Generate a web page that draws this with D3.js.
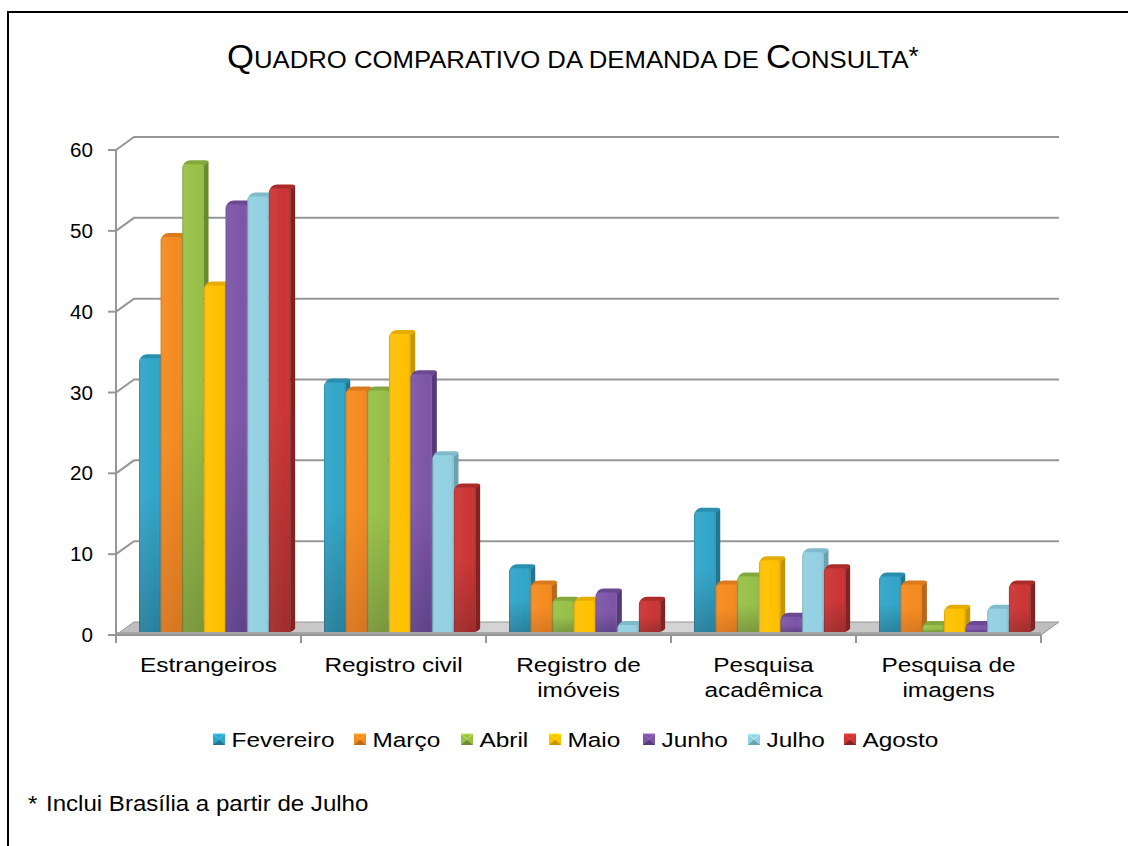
<!DOCTYPE html>
<html><head><meta charset="utf-8">
<script src="https://cdn.jsdelivr.net/npm/d3@7"></script>
<style>html,body{margin:0;padding:0;background:#fff}svg{display:block}text{font-family:"Liberation Sans",Arial,sans-serif;fill:#000}</style>
</head><body><div id="c"></div>
<script>
const categories=[["Estrangeiros"],["Registro civil"],["Registro de","imóveis"],["Pesquisa","acadêmica"],["Pesquisa de","imagens"]];
const months=["Fevereiro","Março","Abril","Maio","Junho","Julho","Agosto"];
const fevereiro=[34,31,8,15,7];
const marco=[49,30,6,6,6];
const abril=[58,30,4,7,1];
const maio=[43,37,4,9,3];
const junho=[53,32,5,2,1];
const julho=[54,22,1,10,3];
const agosto=[55,18,4,8,6];
const series=[fevereiro,marco,abril,maio,junho,julho,agosto];
const colors=["#31a5c8","#f58a1f","#97c047","#ffc000","#7d55a8","#92d0e2","#cb3434"];
const dark=["#23758f","#b8661a","#6b8a33","#c79500","#553a75","#6aa2b2","#842323"];
const bottoms=["#27809c","#d8761f","#79983a","#ffc000","#5f4289","#92d0e2","#a12b2b"];
const yTicks=[0,10,20,30,40,50,60];
const W=1128,H=846,SX=1.19;
const svg=d3.select("#c").append("svg").attr("width",W).attr("height",H);
const defs=svg.append("defs");
colors.forEach((c,i)=>{
 const g=defs.append("linearGradient").attr("id","f"+i).attr("x1",0).attr("y1",0).attr("x2",0).attr("y2",1);
 g.append("stop").attr("offset",0).attr("stop-color",c);
 g.append("stop").attr("offset",.5).attr("stop-color",c);
 g.append("stop").attr("offset",1).attr("stop-color",bottoms[i]);
});
const sh=defs.append("linearGradient").attr("id","sh");
[[0,"#000",.18],[.1,"#fff",.05],[.85,"#fff",0],[1,"#000",.12]].forEach(d=>sh.append("stop").attr("offset",d[0]).attr("stop-color",d[1]).attr("stop-opacity",d[2]));
const fl=defs.append("linearGradient").attr("id","fl").attr("x1",0).attr("x2",1);
[[0,"#bdbdbd"],[.5,"#d9d9d9"],[1,"#bdbdbd"]].forEach(d=>fl.append("stop").attr("offset",d[0]).attr("stop-color",d[1]));
defs.append("filter").attr("id","soft").attr("x","-20%").attr("y","-5%").attr("width","140%").attr("height","110%")
 .append("feGaussianBlur").attr("stdDeviation",.55);
const txt=(par,x,y,size,anchor,sx)=>par.append("text").attr("transform",`translate(${x},${y}) scale(${sx},1)`).attr("text-anchor",anchor).attr("font-size",size);

// page frame
svg.append("path").attr("d",`M8,${H}V12H${W}`).attr("fill","none").attr("stroke","#000").attr("stroke-width",2);

// scales
const x0=d3.scaleBand().domain(d3.range(5)).range([116,1041]);
const x1=d3.scaleBand().domain(d3.range(7)).range([23,23+21.65*7]);
const y=d3.scaleLinear().domain([0,60]).range([635,150]);
const dx=18,dy=-13;
const grey="#969696";

// back wall grid
svg.append("g").selectAll("path").data(yTicks.slice(1)).join("path")
 .attr("d",d=>`M116,${y(d)}L${116+dx},${y(d)+dy}H${1041+dx}`)
 .attr("fill","none").attr("stroke",grey).attr("stroke-width",2);
// floor
svg.append("path").attr("d",`M116,635L${116+dx},${635+dy}H${1041+dx}L1041,635Z`).attr("fill","url(#fl)").attr("stroke",grey).attr("stroke-width",1);
svg.append("rect").attr("x",116).attr("y",632).attr("width",925).attr("height",4).attr("fill","#a6a6a6");

// axes
const ax=svg.append("g");
ax.append("line").attr("x1",116).attr("x2",116).attr("y1",y(60)).attr("y2",y(0)+8).attr("stroke",grey).attr("stroke-width",2);
ax.selectAll(".t").data(yTicks).join("line").attr("x1",108).attr("x2",116).attr("y1",d=>y(d)).attr("y2",d=>y(d)).attr("stroke",grey).attr("stroke-width",2);
ax.append("line").attr("x1",108).attr("x2",1041).attr("y1",y(0)).attr("y2",y(0)).attr("stroke",grey).attr("stroke-width",2);
ax.selectAll(".c").data(d3.range(6)).join("line").attr("x1",d=>116+d*x0.step()).attr("x2",d=>116+d*x0.step()).attr("y1",y(0)).attr("y2",y(0)+8).attr("stroke",grey).attr("stroke-width",2);
yTicks.forEach(d=>txt(ax,93,y(d)+7,20,"end",1.03).text(d));

// bars
const base=632,bd=5,bh=4;
const g=svg.append("g");
series.forEach((vals,s)=>{
 const cap=d3.interpolateRgb(colors[s],dark[s])(.45);
 vals.forEach((v,c)=>{
  const xl=x0(c)+x1(s),w=x1.bandwidth()-.4,top=y(v)-2,xr=xl+w;
  const b=g.append("g").attr("filter","url(#soft)");
  b.append("path").attr("d",`M${xr},${top}L${xr+bd-1},${top-bh+1}Q${xr+bd},${top-bh+1} ${xr+bd},${top-bh+3}V${base-4}Q${xr+bd},${base-2} ${xr},${base}Z`).attr("fill",dark[s]);
  b.append("path").attr("d",`M${xl},${top+3}Q${xl+2},${top-bh} ${xl+8},${top-bh}H${xr+bd-3}Q${xr+bd},${top-bh} ${xr+bd},${top-bh+2}L${xr},${top+2}H${xl}Z`).attr("fill",cap);
  const front=`M${xl},${top+4}Q${xl},${top} ${xl+4},${top}H${xr-2}Q${xr},${top} ${xr},${top+3}V${base}H${xl}Z`;
  b.append("path").attr("d",front).attr("fill",`url(#f${s})`);
  b.append("path").attr("d",front).attr("fill","url(#sh)");
 });
});

// category labels
const cl=svg.append("g");
categories.forEach((lines,i)=>{
 lines.forEach((t,j)=>{
  txt(cl,x0(i)+x0.bandwidth()/2,672+j*25,20.5,"middle",SX).text(t);
 });
});

// legend
const legendX=[213,354,461,549,643,748,844];
const lg=svg.append("g");
months.forEach((m,i)=>{
 const a=legendX[i],s=12,t=734;
 lg.append("rect").attr("x",a).attr("y",t).attr("width",s).attr("height",s-1).attr("fill",colors[i]);
 lg.append("path").attr("d",`M${a},${t}L${a+s/2},${t+5}L${a+s},${t}Z`).attr("fill",colors[i]).attr("stroke",d3.color(colors[i]).brighter(.6)).attr("stroke-width",1);
 lg.append("path").attr("d",`M${a},${t+s-1}L${a+s/2},${t+6}L${a+s},${t+s-1}Z`).attr("fill",dark[i]);
 txt(lg,a+18.5,747,20.5,"start",SX).text(m);
});

// title
const tt=txt(svg,227,68,24.5,"start",1.05);
[["Q",33],["UADRO COMPARATIVO DA DEMANDA DE ",24.5],["C",33],["ONSULTA",24.5]].forEach(d=>tt.append("tspan").attr("font-size",d[1]).text(d[0]));
tt.append("tspan").attr("font-size",25).attr("dy",-3).text("*");

txt(svg,28,811,22,"start",1.095).text("*");
txt(svg,46,811,22,"start",1.095).text("Inclui Brasília a partir de Julho");
</script></body></html>
